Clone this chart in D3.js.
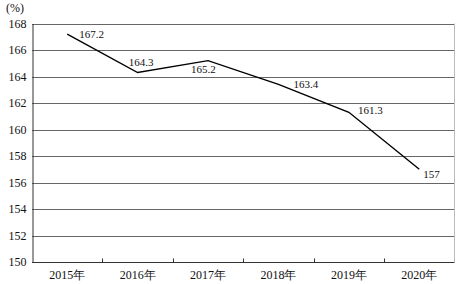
<!DOCTYPE html>
<html>
<head>
<meta charset="utf-8">
<script src="https://cdn.jsdelivr.net/npm/d3@7"></script>
<style>
  body { margin: 0; background: #fff; }
  text { font-family: "Liberation Serif", "Times New Roman", serif; fill: #111; }
</style>
</head>
<body>
<div id="chart"></div>
<script>
// data
var years = ["2015年", "2016年", "2017年", "2018年", "2019年", "2020年"];
var values = [167.2, 164.3, 165.2, 163.4, 161.3, 157];
var yTicks = [150, 152, 154, 156, 158, 160, 162, 164, 166, 168];

// label offsets from each point (style only)
var labelDx = [12, -9, -17, 15, 9, 4];
var labelDy = [4, -7, 12, 4, 1.5, 9];

var W = 456, H = 284;
var margin = { top: 23.5, right: 1.5, bottom: 22, left: 32 };

var svg = d3.select("#chart").append("svg")
    .attr("width", W)
    .attr("height", H);

var x = d3.scaleBand()
    .domain(years)
    .range([margin.left, W - margin.right]);

var y = d3.scaleLinear()
    .domain([150, 168])
    .range([H - margin.bottom, margin.top]);

// gridlines
svg.append("g")
    .selectAll("line")
    .data(yTicks.slice(1))
    .enter()
    .append("line")
    .attr("x1", margin.left)
    .attr("x2", W - margin.right)
    .attr("y1", function (d) { return Math.round(y(d)) + 0.5; })
    .attr("y2", function (d) { return Math.round(y(d)) + 0.5; })
    .attr("stroke", "#666")
    .attr("stroke-width", 1);

// right border
svg.append("line")
    .attr("x1", W - margin.right).attr("x2", W - margin.right)
    .attr("y1", y(168)).attr("y2", y(150))
    .attr("stroke", "#bbb");

// y axis
var yAxis = svg.append("g")
    .attr("transform", "translate(" + (margin.left + 0.5) + ",0)")
    .call(d3.axisLeft(y).tickValues(yTicks).tickSize(0).tickPadding(6));
yAxis.select(".domain").attr("stroke", "#333");
yAxis.selectAll("text")
    .style("font-size", "12px")
    .style("font-family", "'Liberation Serif', serif");

// x axis
var bottom = Math.round(y(150)) + 0.5;
svg.append("line")
    .attr("x1", margin.left).attr("x2", W - margin.right)
    .attr("y1", bottom).attr("y2", bottom)
    .attr("stroke", "#333");

svg.append("g")
    .selectAll("line")
    .data(years.slice(1))
    .enter()
    .append("line")
    .attr("x1", function (d) { return Math.round(x(d)) + 0.5; })
    .attr("x2", function (d) { return Math.round(x(d)) + 0.5; })
    .attr("y1", bottom)
    .attr("y2", bottom - 4)
    .attr("stroke", "#333");

svg.append("g")
    .selectAll("text")
    .data(years)
    .enter()
    .append("text")
    .attr("x", function (d) { return x(d) + x.bandwidth() / 2; })
    .attr("y", 279)
    .attr("text-anchor", "middle")
    .style("font-size", "12px")
    .text(function (d) { return d; });

// unit
svg.append("text")
    .attr("x", 6)
    .attr("y", 12)
    .style("font-size", "12px")
    .text("(%)");

// line
var line = d3.line()
    .x(function (d, i) { return x(years[i]) + x.bandwidth() / 2; })
    .y(function (d) { return y(d); });

svg.append("path")
    .datum(values)
    .attr("fill", "none")
    .attr("stroke", "#000")
    .attr("stroke-width", 1.4)
    .attr("d", line);

// value labels
svg.append("g")
    .selectAll("text")
    .data(values)
    .enter()
    .append("text")
    .attr("x", function (d, i) { return x(years[i]) + x.bandwidth() / 2 + labelDx[i]; })
    .attr("y", function (d, i) { return y(d) + labelDy[i]; })
    .style("font-size", "11px")
    .text(function (d) { return d; });
</script>
</body>
</html>
